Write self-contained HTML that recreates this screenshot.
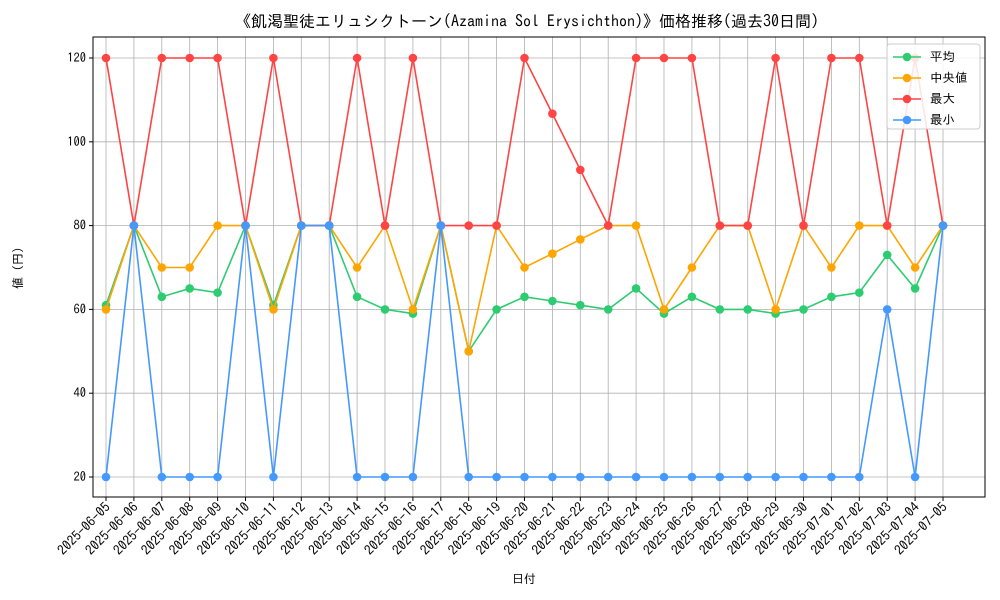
<!DOCTYPE html>
<html><head><meta charset="utf-8"><style>
body{margin:0;background:#fff}
svg{display:block;font-family:"IPAGothic","Noto Sans CJK JP",sans-serif}
</style></head><body>
<svg id="chart" width="1000" height="600">
<rect width="1000" height="600" fill="#fff"/>
<text x="527" y="27" font-size="16" text-anchor="middle">《飢渇聖徒エリュシクトーン(Azamina Sol Erysichthon)》価格推移(過去30日間)</text>
<g id="grid"></g><g id="axes"></g><g id="series"></g>
<text x="524" y="583" font-size="12" text-anchor="middle">日付</text>
<text transform="translate(22,268) rotate(-90)" font-size="12" text-anchor="middle">値 (円)</text>
<g id="legend"></g>
</svg>
<script>
const dates=["2025-06-05","2025-06-06","2025-06-07","2025-06-08","2025-06-09","2025-06-10","2025-06-11","2025-06-12","2025-06-13","2025-06-14","2025-06-15","2025-06-16","2025-06-17","2025-06-18","2025-06-19","2025-06-20","2025-06-21","2025-06-22","2025-06-23","2025-06-24","2025-06-25","2025-06-26","2025-06-27","2025-06-28","2025-06-29","2025-06-30","2025-07-01","2025-07-02","2025-07-03","2025-07-04","2025-07-05"];
const avgValues=[61,80,63,65,64,80,61,80,80,63,60,59,80,50,60,63,62,61,60,65,59,63,60,60,59,60,63,64,73,65,80];
const medianValues=[60,80,70,70,80,80,60,80,80,70,80,60,80,50,80,70,73.3,76.7,80,80,60,70,80,80,60,80,70,80,80,70,80];
const maxValues=[120,80,120,120,120,80,120,80,80,120,80,120,80,80,80,120,106.7,93.3,80,120,120,120,80,80,120,80,120,120,80,120,80];
const minValues=[20,80,20,20,20,80,20,80,80,20,20,20,80,20,20,20,20,20,20,20,20,20,20,20,20,20,20,20,60,20,80];
const yTicks=[20,40,60,80,100,120];
const seriesNames=["平均","中央値","最大","最小"];
const seriesColors=["#2ecc71","#ffa500","#ff4444","#4499ff"];
const NS="http://www.w3.org/2000/svg";
const L=93,R=985,T=37,B=497;
const xs=i=>106+i*(943-106)/(dates.length-1);
const ys=v=>477-(v-20)*(477-58)/100;
function mk(tag,attrs,parent){const e=document.createElementNS(NS,tag);for(const k in attrs)e.setAttribute(k,attrs[k]);parent.appendChild(e);return e;}
const grid=document.getElementById('grid'),axes=document.getElementById('axes'),ser=document.getElementById('series'),leg=document.getElementById('legend');
dates.forEach((d,i)=>{
 const g=mk('line',{x1:xs(i),x2:xs(i),y1:T,y2:B,stroke:'#b0b0b0','stroke-width':0.8},grid);
 
 
 mk('line',{x1:xs(i),x2:xs(i),y1:B,y2:B+4,stroke:'#000'},axes);
 const t=mk('text',{x:xs(i)+5,y:B+11,'font-size':13.5,'text-anchor':'end',transform:`rotate(-45 ${xs(i)+5} ${B+11})`},axes);
 t.textContent=d;
 
 
});
yTicks.forEach(v=>{
 const g=mk('line',{x1:L,x2:R,y1:ys(v),y2:ys(v),stroke:'#b0b0b0','stroke-width':0.8},grid);
 
 
 mk('line',{x1:L-4,x2:L,y1:ys(v),y2:ys(v),stroke:'#000'},axes);
 const t=mk('text',{x:L-7,y:ys(v)+4,'font-size':12.5,'text-anchor':'end'},axes);
 t.textContent=v;
 
 
});
const frame=mk('rect',{x:L,y:T,width:R-L,height:B-T,fill:'none',stroke:'#000','stroke-width':1},axes);


const allSeries=[avgValues,medianValues,maxValues,minValues];
const keys=["avg","median","max","min"];
allSeries.forEach((vals,s)=>{
 const g=mk('g',{},ser);
 
 
 const p=mk('polyline',{points:vals.map((v,i)=>xs(i)+','+ys(v)).join(' '),fill:'none',stroke:seriesColors[s],'stroke-width':1.6},g);
 
 
 vals.forEach((v,i)=>{
  const c=mk('circle',{cx:xs(i),cy:ys(v),r:4.3,fill:seriesColors[s]},g);
  
  
 });
});
const lb=mk('rect',{x:887,y:44,width:93,height:85,fill:'#fff','fill-opacity':0.85,stroke:'#ccc',rx:3},leg);


seriesNames.forEach((n,s)=>{
 const y=57+s*21;
 const g=mk('g',{},leg);
 
 
 mk('line',{x1:893,x2:921,y1:y,y2:y,stroke:seriesColors[s],'stroke-width':1.6},g);
 mk('circle',{cx:907,cy:y,r:4.3,fill:seriesColors[s]},g);
 const t=mk('text',{x:930,y:y+4,'font-size':12.5},g);
 t.textContent=n;
});
</script>
</body></html>
